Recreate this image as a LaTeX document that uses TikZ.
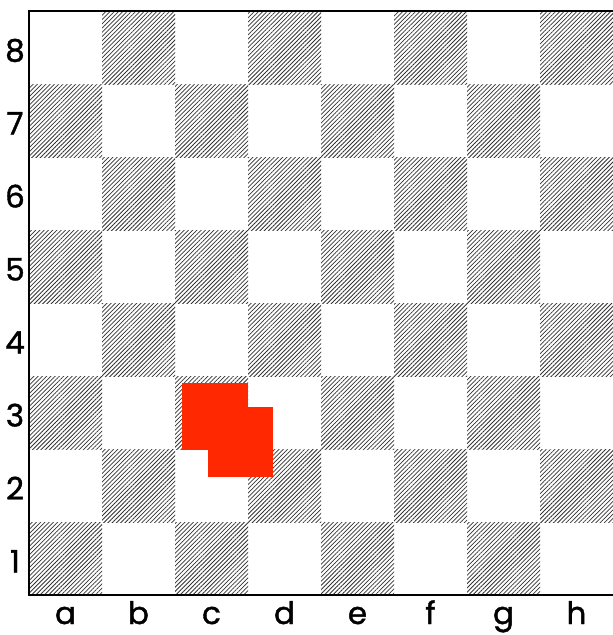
\documentclass[tikz,border=0pt]{standalone}
\usepackage{fontspec}
\setmainfont{Poppins}[FakeBold=1.3]
\usetikzlibrary{patterns.meta}
\definecolor{piece}{RGB}{255,40,0}
\tikzset{
  dark/.style={pattern={Lines[angle=45,distance=3pt,line width=0.75pt]},pattern color=black!80},
  lbl/.style={font=\fontsize{31}{31}\selectfont, inner sep=0pt, anchor=base},
  piecebox/.style={fill=piece, draw=none}
}
\begin{document}
\begin{tikzpicture}[x=1pt,y=-1pt]
\useasboundingbox (0,0) rectangle (613,635);
\fill[white] (0,0) rectangle (613,635);
% dark squares
\foreach \f in {1,...,8}{
  \foreach \r in {1,...,8}{
    \pgfmathtruncatemacro{\parity}{mod(\f+\r,2)}
    \ifnum\parity=0
      \fill[dark] ({29+(\f-1)*73},{11+(8-\r)*73}) rectangle ++(73,73);
    \fi
  }
}
% board border
\draw[line width=2.6pt] (616,11) -- (29,11) -- (29,595) -- (616,595);
% pieces
\node[piecebox, minimum width=66.5pt, minimum height=67pt, inner sep=0pt] (p1) at (215,416.5) {};
\node[piecebox, minimum width=65pt, minimum height=69.5pt, inner sep=0pt] (p2) at (240.2,442) {};
\fill[piece] (p1.north west) rectangle (p1.south east);
% rank labels
\foreach \r in {1,...,8}{
  \node[lbl] (r\r) at (15,{11+(8-\r)*73+36.5+14}) {\r};
}
% file labels
\foreach \l [count=\i] in {a,b,c,d,e,f,g,h}{
  \node[lbl] (f\l) at ({29+(\i-1)*73+36.5},624) {\l};
}
\end{tikzpicture}
\end{document}
